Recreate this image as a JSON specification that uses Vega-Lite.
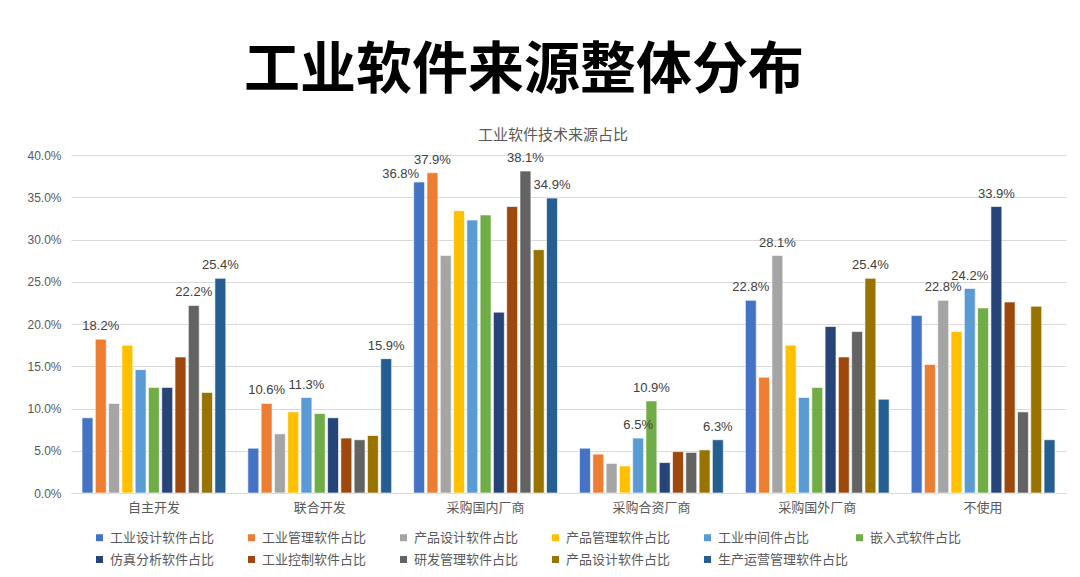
{
  "$schema": "https://vega.github.io/schema/vega-lite/v6.json",
  "padding": {"left": 26, "top": 43, "right": 5, "bottom": 5},
  "background": "white",
  "config": {
    "view": {"stroke": null},
    "font": "Liberation Sans",
    "concat": {"spacing": 0}
  },
  "title": {
    "text": "工业软件来源整体分布",
    "anchor": "start",
    "align": "center",
    "dx": 497,
    "offset": 28,
    "font": "Noto Sans CJK SC",
    "fontSize": 56,
    "fontWeight": 700,
    "color": "#000000"
  },
  "vconcat": [
    {
      "width": 995,
      "height": 338,
      "title": {
        "text": "工业软件技术来源占比",
        "anchor": "start",
        "align": "center",
        "dx": 526,
        "offset": 6,
        "font": "Noto Sans CJK SC",
        "fontSize": 15,
        "fontWeight": "normal",
        "color": "#595959"
      },
      "data": {
        "values": [
          {"c": "自主开发", "s": "工业设计软件占比", "v": 0.089, "show": false},
          {"c": "自主开发", "s": "工业管理软件占比", "v": 0.182, "show": true},
          {"c": "自主开发", "s": "产品设计软件占比", "v": 0.106, "show": false},
          {"c": "自主开发", "s": "产品管理软件占比", "v": 0.175, "show": false},
          {"c": "自主开发", "s": "工业中间件占比", "v": 0.146, "show": false},
          {"c": "自主开发", "s": "嵌入式软件占比", "v": 0.125, "show": false},
          {"c": "自主开发", "s": "仿真分析软件占比", "v": 0.125, "show": false},
          {"c": "自主开发", "s": "工业控制软件占比", "v": 0.161, "show": false},
          {"c": "自主开发", "s": "研发管理软件占比", "v": 0.222, "show": true},
          {"c": "自主开发", "s": "产品设计软件占比 ", "v": 0.119, "show": false},
          {"c": "自主开发", "s": "生产运营管理软件占比", "v": 0.254, "show": true},

          {"c": "联合开发", "s": "工业设计软件占比", "v": 0.053, "show": false},
          {"c": "联合开发", "s": "工业管理软件占比", "v": 0.106, "show": true},
          {"c": "联合开发", "s": "产品设计软件占比", "v": 0.070, "show": false},
          {"c": "联合开发", "s": "产品管理软件占比", "v": 0.096, "show": false},
          {"c": "联合开发", "s": "工业中间件占比", "v": 0.113, "show": true},
          {"c": "联合开发", "s": "嵌入式软件占比", "v": 0.094, "show": false},
          {"c": "联合开发", "s": "仿真分析软件占比", "v": 0.089, "show": false},
          {"c": "联合开发", "s": "工业控制软件占比", "v": 0.065, "show": false},
          {"c": "联合开发", "s": "研发管理软件占比", "v": 0.063, "show": false},
          {"c": "联合开发", "s": "产品设计软件占比 ", "v": 0.068, "show": false},
          {"c": "联合开发", "s": "生产运营管理软件占比", "v": 0.159, "show": true},

          {"c": "采购国内厂商", "s": "工业设计软件占比", "v": 0.368, "show": true},
          {"c": "采购国内厂商", "s": "工业管理软件占比", "v": 0.379, "show": true},
          {"c": "采购国内厂商", "s": "产品设计软件占比", "v": 0.281, "show": false},
          {"c": "采购国内厂商", "s": "产品管理软件占比", "v": 0.334, "show": false},
          {"c": "采购国内厂商", "s": "工业中间件占比", "v": 0.323, "show": false},
          {"c": "采购国内厂商", "s": "嵌入式软件占比", "v": 0.329, "show": false},
          {"c": "采购国内厂商", "s": "仿真分析软件占比", "v": 0.214, "show": false},
          {"c": "采购国内厂商", "s": "工业控制软件占比", "v": 0.339, "show": false},
          {"c": "采购国内厂商", "s": "研发管理软件占比", "v": 0.381, "show": true},
          {"c": "采购国内厂商", "s": "产品设计软件占比 ", "v": 0.288, "show": false},
          {"c": "采购国内厂商", "s": "生产运营管理软件占比", "v": 0.349, "show": true},

          {"c": "采购合资厂商", "s": "工业设计软件占比", "v": 0.053, "show": false},
          {"c": "采购合资厂商", "s": "工业管理软件占比", "v": 0.046, "show": false},
          {"c": "采购合资厂商", "s": "产品设计软件占比", "v": 0.035, "show": false},
          {"c": "采购合资厂商", "s": "产品管理软件占比", "v": 0.032, "show": false},
          {"c": "采购合资厂商", "s": "工业中间件占比", "v": 0.065, "show": true},
          {"c": "采购合资厂商", "s": "嵌入式软件占比", "v": 0.109, "show": true},
          {"c": "采购合资厂商", "s": "仿真分析软件占比", "v": 0.036, "show": false},
          {"c": "采购合资厂商", "s": "工业控制软件占比", "v": 0.049, "show": false},
          {"c": "采购合资厂商", "s": "研发管理软件占比", "v": 0.048, "show": false},
          {"c": "采购合资厂商", "s": "产品设计软件占比 ", "v": 0.051, "show": false},
          {"c": "采购合资厂商", "s": "生产运营管理软件占比", "v": 0.063, "show": true},

          {"c": "采购国外厂商", "s": "工业设计软件占比", "v": 0.228, "show": true},
          {"c": "采购国外厂商", "s": "工业管理软件占比", "v": 0.137, "show": false},
          {"c": "采购国外厂商", "s": "产品设计软件占比", "v": 0.281, "show": true},
          {"c": "采购国外厂商", "s": "产品管理软件占比", "v": 0.175, "show": false},
          {"c": "采购国外厂商", "s": "工业中间件占比", "v": 0.113, "show": false},
          {"c": "采购国外厂商", "s": "嵌入式软件占比", "v": 0.125, "show": false},
          {"c": "采购国外厂商", "s": "仿真分析软件占比", "v": 0.197, "show": false},
          {"c": "采购国外厂商", "s": "工业控制软件占比", "v": 0.161, "show": false},
          {"c": "采购国外厂商", "s": "研发管理软件占比", "v": 0.191, "show": false},
          {"c": "采购国外厂商", "s": "产品设计软件占比 ", "v": 0.254, "show": true},
          {"c": "采购国外厂商", "s": "生产运营管理软件占比", "v": 0.111, "show": false},

          {"c": "不使用", "s": "工业设计软件占比", "v": 0.210, "show": false},
          {"c": "不使用", "s": "工业管理软件占比", "v": 0.152, "show": false},
          {"c": "不使用", "s": "产品设计软件占比", "v": 0.228, "show": true},
          {"c": "不使用", "s": "产品管理软件占比", "v": 0.191, "show": false},
          {"c": "不使用", "s": "工业中间件占比", "v": 0.242, "show": true},
          {"c": "不使用", "s": "嵌入式软件占比", "v": 0.219, "show": false},
          {"c": "不使用", "s": "仿真分析软件占比", "v": 0.339, "show": true},
          {"c": "不使用", "s": "工业控制软件占比", "v": 0.226, "show": false},
          {"c": "不使用", "s": "研发管理软件占比", "v": 0.096, "show": false},
          {"c": "不使用", "s": "产品设计软件占比 ", "v": 0.221, "show": false},
          {"c": "不使用", "s": "生产运营管理软件占比", "v": 0.063, "show": false}
        ]
      },
      "encoding": {
        "x": {
          "field": "c",
          "type": "nominal",
          "sort": ["自主开发", "联合开发", "采购国内厂商", "采购合资厂商", "采购国外厂商", "不使用"],
          "scale": {"paddingInner": 0.133, "paddingOuter": 0.0665},
          "axis": {
            "title": null,
            "labelAngle": 0,
            "ticks": false,
            "domain": true,
            "domainColor": "#d9d9d9",
            "labelFont": "Noto Sans CJK SC",
            "labelFontSize": 13,
            "labelColor": "#595959",
            "labelPadding": 8
          }
        },
        "xOffset": {
          "field": "s",
          "type": "nominal",
          "sort": ["工业设计软件占比", "工业管理软件占比", "产品设计软件占比", "产品管理软件占比", "工业中间件占比", "嵌入式软件占比", "仿真分析软件占比", "工业控制软件占比", "研发管理软件占比", "产品设计软件占比 ", "生产运营管理软件占比"],
          "scale": {"paddingInner": 0.18, "paddingOuter": 0}
        },
        "y": {
          "field": "v",
          "type": "quantitative",
          "scale": {"domain": [0, 0.4], "nice": false},
          "axis": {
            "title": null,
            "values": [0, 0.05, 0.1, 0.15, 0.2, 0.25, 0.3, 0.35, 0.4],
            "format": ".1%",
            "domain": false,
            "ticks": false,
            "gridColor": "#d9d9d9",
            "labelFontSize": 12,
            "labelColor": "#595959",
            "labelPadding": 10
          }
        }
      },
      "layer": [
        {
          "mark": {"type": "bar", "stroke": "#ffffff", "strokeOpacity": 0.6, "strokeWidth": 1},
          "encoding": {
            "color": {
              "field": "s",
              "type": "nominal",
              "scale": {
                "domain": ["工业设计软件占比", "工业管理软件占比", "产品设计软件占比", "产品管理软件占比", "工业中间件占比", "嵌入式软件占比", "仿真分析软件占比", "工业控制软件占比", "研发管理软件占比", "产品设计软件占比 ", "生产运营管理软件占比"],
                "range": ["#4472C4", "#ED7D31", "#A5A5A5", "#FFC000", "#5B9BD5", "#70AD47", "#264478", "#9E480E", "#636363", "#997300", "#255E91"]
              },
              "legend": {
                "title": null,
                "orient": "none",
                "legendX": 22,
                "legendY": 376,
                "direction": "horizontal",
                "columns": 6,
                "gridAlign": "all",
                "columnPadding": 4,
                "rowPadding": 8,
                "symbolType": "square",
                "symbolSize": 49,
                "symbolStrokeWidth": 0,
                "labelFont": "Noto Sans CJK SC",
                "labelFontSize": 13,
                "labelColor": "#595959",
                "labelOffset": 4,
                "labelLimit": 200
              }
            }
          }
        },
        {
          "transform": [
            {"filter": "datum.show && !(datum.c == '采购国内厂商' && datum.s == '工业设计软件占比')"}
          ],
          "mark": {"type": "text", "baseline": "bottom", "dy": -6, "fontSize": 13, "color": "#404040", "font": "Liberation Sans"},
          "encoding": {
            "text": {"field": "v", "type": "quantitative", "format": ".1%"}
          }
        },
        {
          "transform": [
            {"filter": "datum.c == '采购国内厂商' && datum.s == '工业设计软件占比'"}
          ],
          "mark": {"type": "text", "baseline": "bottom", "align": "right", "dx": 0, "dy": -1, "fontSize": 13, "color": "#404040", "font": "Liberation Sans"},
          "encoding": {
            "text": {"field": "v", "type": "quantitative", "format": ".1%"}
          }
        }
      ]
    }
  ]
}
